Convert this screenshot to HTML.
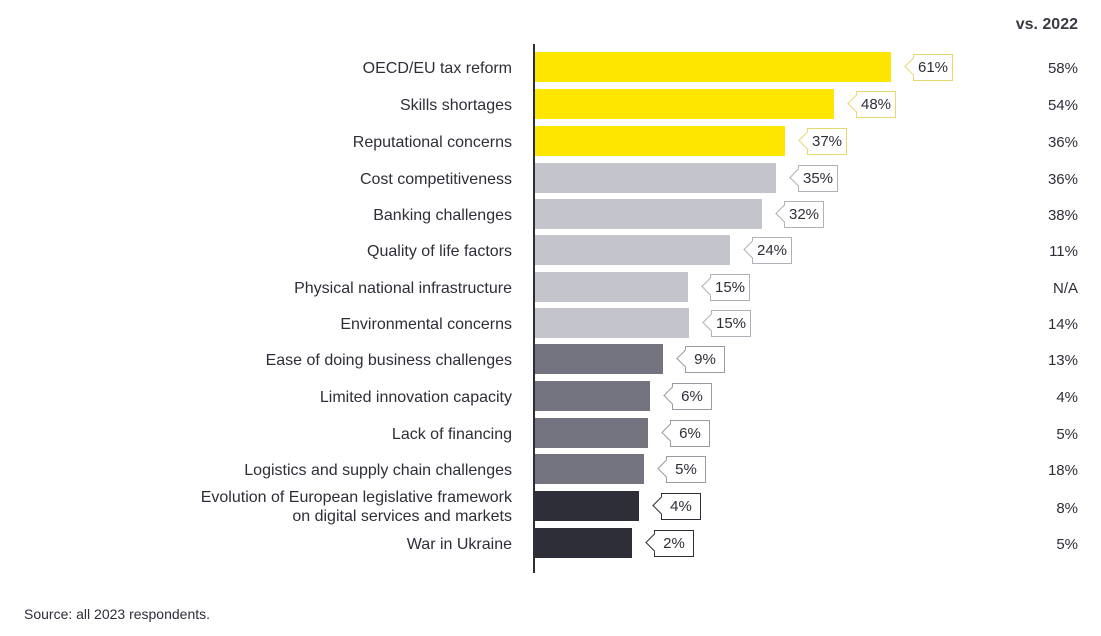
<!DOCTYPE html>
<html><head><meta charset="utf-8"><style>
body{margin:0;width:1101px;height:636px;background:#fff;font-family:"Liberation Sans",sans-serif;color:#2e2e38;position:relative;overflow:hidden}
.l{position:absolute;right:589px;font-size:16px;text-align:right;line-height:19px;white-space:nowrap}
.v{position:absolute;right:23px;font-size:15px}
.bar{position:absolute;left:535px;height:30px}
.box{position:absolute;height:25px;width:38px;background:#fff;border:1px solid;font-size:15px;line-height:25px;text-align:center}
.box:before{content:"";position:absolute;left:-7px;top:5px;width:12px;height:12px;background:#fff;border-left:1px solid;border-bottom:1px solid;border-color:inherit;transform:rotate(45deg)}
.box span{position:relative}
</style></head><body>
<div style="position:absolute;right:23px;top:16px;font-size:16px;font-weight:bold;color:#3a3a44">vs. 2022</div>
<div style="position:absolute;left:533px;top:44px;width:2px;height:529px;background:#2e2e38"></div>
<div id="c"></div>
<div style="position:absolute;left:24px;top:606px;font-size:14px">Source: all 2023 respondents.</div>
<script>
var d=[["OECD/EU tax reform",891,"61%","58%",0],["Skills shortages",834,"48%","54%",0],["Reputational concerns",785,"37%","36%",0],["Cost competitiveness",776,"35%","36%",1],["Banking challenges",762,"32%","38%",1],["Quality of life factors",730,"24%","11%",1],["Physical national infrastructure",688,"15%","N/A",1],["Environmental concerns",689,"15%","14%",1],["Ease of doing business challenges",663,"9%","13%",2],["Limited innovation capacity",650,"6%","4%",2],["Lack of financing",648,"6%","5%",2],["Logistics and supply chain challenges",644,"5%","18%",2],["Evolution of European legislative framework<br>on digital services and markets",639,"4%","8%",3],["War in Ukraine",632,"2%","5%",3]];
var col=["#ffe600","#c4c4cd","#747480","#2e2e38"],bc=["#e8d870","#b0b0b8","#9a9aa2","#2e2e38"];
var cy=[67,104,141,178,214,250,287,323,359,396,433,469,506,543],h="";
d.forEach(function(r,i){var y=cy[i];
var two=r[0].indexOf("<br>")>0;
h+='<div class="l" style="top:'+(y-(two?18:8))+'px">'+r[0]+'</div>';
h+='<div class="bar" style="top:'+(y-15)+'px;width:'+(r[1]-535)+'px;background:'+col[r[4]]+'"></div>';
h+='<div class="box" style="left:'+(r[1]+22)+'px;top:'+(y-13)+'px;border-color:'+bc[r[4]]+'"><span>'+r[2]+'</span></div>';
h+='<div class="v" style="top:'+(y-7+(two?1:0))+'px">'+r[3]+'</div>';});
document.getElementById("c").innerHTML=h;
</script>
</body></html>
